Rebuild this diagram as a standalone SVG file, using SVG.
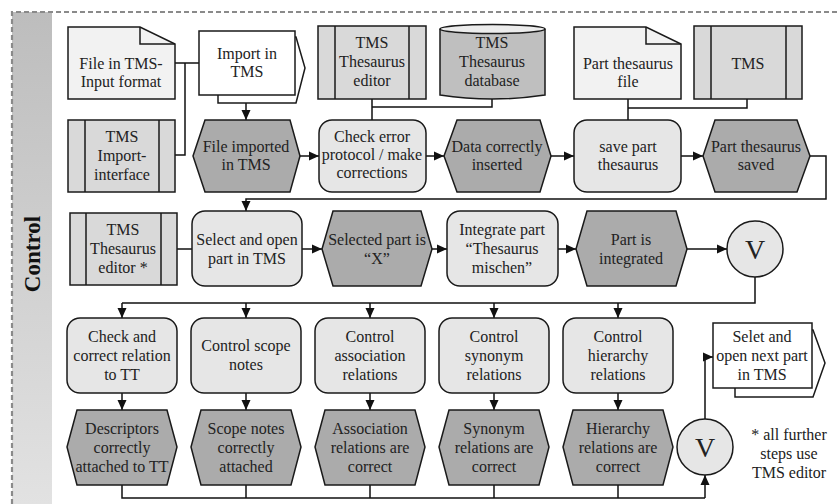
<svg xmlns="http://www.w3.org/2000/svg" width="838" height="504" viewBox="0 0 838 504">
<style>
.frame{fill:none;stroke:#8a8a8a;stroke-width:2.2;stroke-dasharray:5 3}
.node{stroke:#1a1a1a;stroke-width:1.5}
.proc{fill:#e6e6e6}
.hex{fill:#ababab}
.app{fill:#d9d9d9}
.doc{fill:#f2f2f2}
.cyl{fill:#bfbfbf}
.cyltop{fill:#ececec}
.circ{fill:#e6e6e6}
.pif{fill:#ffffff}
.conn{fill:none;stroke:#111;stroke-width:1.5}
text, tspan{font-family:'Liberation Serif', 'Times New Roman', serif}
text{font-size:16px;fill:#222;text-anchor:middle}
.v{font-size:28px}
.lane{font-size:23px;font-weight:bold;fill:#111}
</style>
<defs>
<linearGradient id="band" x1="0" y1="0" x2="0" y2="1">
<stop offset="0" stop-color="#bdbdbd"/>
<stop offset="1" stop-color="#e2e2e2"/>
</linearGradient>
<marker id="arr" markerUnits="userSpaceOnUse" markerWidth="10" markerHeight="10" viewBox="0 0 10 10" refX="10" refY="5" orient="auto">
<path d="M0,0.5 L10,5 L0,9.5 z" fill="#111"/>
</marker>
</defs>
<rect x="12" y="12" width="40" height="492" fill="url(#band)"/>
<path class="frame" d="M12,504 L12,12 L838,12"/>
<text class="lane" transform="translate(40,254) rotate(-90)">Control</text>

<g id="connectors">
<path class="conn" d="M175,63 L199,63 M185,63 L185,155 L175,155"/>
<path class="conn" d="M246,103 L246,120" marker-end="url(#arr)"/>
<path class="conn" d="M372,99 L372,120 M372,107 L492,107 L492,99"/>
<path class="conn" d="M628,99 L628,120 M628,108 L747,108 L747,99"/>
<path class="conn" d="M300,156 L319,156" marker-end="url(#arr)"/>
<path class="conn" d="M426,156 L444,156" marker-end="url(#arr)"/>
<path class="conn" d="M551,156 L574,156" marker-end="url(#arr)"/>
<path class="conn" d="M681,156 L703,156" marker-end="url(#arr)"/>
<path class="conn" d="M810,156 L826,156 L826,199 L246,199 L246,211" marker-end="url(#arr)"/>
<path class="conn" d="M177,249 L192,249"/>
<path class="conn" d="M302,249 L322,249" marker-end="url(#arr)"/>
<path class="conn" d="M432,249 L447,249" marker-end="url(#arr)"/>
<path class="conn" d="M558,249 L576,249" marker-end="url(#arr)"/>
<path class="conn" d="M687,249 L727,249" marker-end="url(#arr)"/>
<path class="conn" d="M755,277 L755,303 L122,303"/>
<path class="conn" d="M122,303 L122,318" marker-end="url(#arr)"/>
<path class="conn" d="M246,303 L246,318" marker-end="url(#arr)"/>
<path class="conn" d="M370,303 L370,318" marker-end="url(#arr)"/>
<path class="conn" d="M494,303 L494,318" marker-end="url(#arr)"/>
<path class="conn" d="M618,303 L618,318" marker-end="url(#arr)"/>
<path class="conn" d="M122,393 L122,410" marker-end="url(#arr)"/>
<path class="conn" d="M246,393 L246,410" marker-end="url(#arr)"/>
<path class="conn" d="M370,393 L370,410" marker-end="url(#arr)"/>
<path class="conn" d="M494,393 L494,410" marker-end="url(#arr)"/>
<path class="conn" d="M618,393 L618,410" marker-end="url(#arr)"/>
<path class="conn" d="M122,485 L122,498 L705,498 M246,485 L246,498 M370,485 L370,498 M494,485 L494,498 M618,485 L618,498"/>
<path class="conn" d="M705,498 L705,475" marker-end="url(#arr)"/>
<path class="conn" d="M705,419 L705,357 L713,357" marker-end="url(#arr)"/>
</g>

<g id="doc-file-input">
<path class="node doc" d="M68,27 L140,27 L175,44 L175,99 L68,99 Z"/>
<path class="node" fill="none" d="M140,27 L140,44 L175,44"/>
<text><tspan x="121" y="69">File in TMS-</tspan><tspan x="121" y="87">Input format</tspan></text>
</g>
<g id="pif-import">
<path class="node pif" d="M218,37 L296,37 L305,68 L296,103 L218,103 Z"/>
<rect class="node pif" x="199" y="31" width="96" height="64"/>
<text><tspan x="247" y="59">Import in</tspan><tspan x="247" y="77">TMS</tspan></text>
</g>
<g id="app-thesaurus-editor">
<rect class="node app" x="318" y="26" width="108" height="73"/>
<path class="node" d="M335,26 L335,99 M409,26 L409,99"/>
<text><tspan x="372" y="48">TMS</tspan><tspan x="372" y="67">Thesaurus</tspan><tspan x="372" y="86">editor</tspan></text>
</g>
<g id="cyl-database">
<path class="node cyl" d="M440,29 L440,95 Q492,103 545,95 L545,29"/>
<ellipse class="node cyltop" cx="492.5" cy="29" rx="52.5" ry="4.5"/>
<text><tspan x="492" y="48">TMS</tspan><tspan x="492" y="67">Thesaurus</tspan><tspan x="492" y="86">database</tspan></text>
</g>
<g id="doc-part-file">
<path class="node doc" d="M574,27 L646,27 L681,44 L681,99 L574,99 Z"/>
<path class="node" fill="none" d="M646,27 L646,44 L681,44"/>
<text><tspan x="628" y="69">Part thesaurus</tspan><tspan x="628" y="87">file</tspan></text>
</g>
<g id="app-tms">
<rect class="node app" x="694" y="26" width="108" height="73"/>
<path class="node" d="M711,26 L711,99 M786,26 L786,99"/>
<text><tspan x="748" y="69">TMS</tspan></text>
</g>

<g id="app-import-interface">
<rect class="node app" x="68" y="120" width="107" height="72"/>
<path class="node" d="M85,120 L85,192 M159,120 L159,192"/>
<text><tspan x="122" y="142">TMS</tspan><tspan x="122" y="161">Import-</tspan><tspan x="122" y="180">interface</tspan></text>
</g>
<g id="hex-file-imported">
<path class="node hex" d="M193,156 L205,120 L290,120 L300,156 L290,192 L205,192 Z"/>
<text><tspan x="246" y="152">File imported</tspan><tspan x="246" y="170">in TMS</tspan></text>
</g>
<g id="proc-check-error">
<rect class="node proc" x="319" y="120" width="107" height="72" rx="13"/>
<text><tspan x="372" y="142">Check error</tspan><tspan x="372" y="160">protocol / make</tspan><tspan x="372" y="178">corrections</tspan></text>
</g>
<g id="hex-data-inserted">
<path class="node hex" d="M444,156 L457,120 L540,120 L551,156 L540,192 L457,192 Z"/>
<text><tspan x="497" y="152">Data correctly</tspan><tspan x="497" y="170">inserted</tspan></text>
</g>
<g id="proc-save-part">
<rect class="node proc" x="574" y="120" width="107" height="72" rx="13"/>
<text><tspan x="628" y="152">save part</tspan><tspan x="628" y="170">thesaurus</tspan></text>
</g>
<g id="hex-part-saved">
<path class="node hex" d="M703,156 L715,120 L797,120 L810,156 L797,192 L715,192 Z"/>
<text><tspan x="756" y="152">Part thesaurus</tspan><tspan x="756" y="170">saved</tspan></text>
</g>

<g id="app-editor-star">
<rect class="node app" x="70" y="213" width="107" height="72"/>
<path class="node" d="M86,213 L86,285 M161,213 L161,285"/>
<text><tspan x="123" y="235">TMS</tspan><tspan x="123" y="254">Thesaurus</tspan><tspan x="123" y="273">editor *</tspan></text>
</g>
<g id="proc-select-open">
<rect class="node proc" x="192" y="211" width="110" height="75" rx="13"/>
<text><tspan x="247" y="245">Select and open</tspan><tspan x="247" y="264">part in TMS</tspan></text>
</g>
<g id="hex-selected-part">
<path class="node hex" d="M322,249 L333,211 L421,211 L432,249 L421,286 L333,286 Z"/>
<text><tspan x="377" y="245">Selected part is</tspan><tspan x="377" y="264">“X”</tspan></text>
</g>
<g id="proc-integrate">
<rect class="node proc" x="447" y="211" width="111" height="75" rx="13"/>
<text><tspan x="502" y="235">Integrate part</tspan><tspan x="502" y="254">“Thesaurus</tspan><tspan x="502" y="273">mischen”</tspan></text>
</g>
<g id="hex-integrated">
<path class="node hex" d="M576,249 L587,211 L676,211 L687,249 L676,286 L587,286 Z"/>
<text><tspan x="631" y="245">Part is</tspan><tspan x="631" y="264">integrated</tspan></text>
</g>
<g id="xor-1">
<circle class="node circ" cx="755" cy="249" r="28"/>
<text class="v" x="755" y="259">V</text>
</g>

<g id="proc-check-tt">
<rect class="node proc" x="67" y="318" width="110" height="75" rx="13"/>
<text><tspan x="122" y="342">Check and</tspan><tspan x="122" y="361">correct relation</tspan><tspan x="122" y="380">to TT</tspan></text>
</g>
<g id="proc-scope">
<rect class="node proc" x="191" y="318" width="110" height="75" rx="13"/>
<text><tspan x="246" y="351">Control scope</tspan><tspan x="246" y="370">notes</tspan></text>
</g>
<g id="proc-association">
<rect class="node proc" x="315" y="318" width="110" height="75" rx="13"/>
<text><tspan x="370" y="342">Control</tspan><tspan x="370" y="361">association</tspan><tspan x="370" y="380">relations</tspan></text>
</g>
<g id="proc-synonym">
<rect class="node proc" x="439" y="318" width="110" height="75" rx="13"/>
<text><tspan x="494" y="342">Control</tspan><tspan x="494" y="361">synonym</tspan><tspan x="494" y="380">relations</tspan></text>
</g>
<g id="proc-hierarchy">
<rect class="node proc" x="563" y="318" width="110" height="75" rx="13"/>
<text><tspan x="618" y="342">Control</tspan><tspan x="618" y="361">hierarchy</tspan><tspan x="618" y="380">relations</tspan></text>
</g>

<g id="hex-descriptors">
<path class="node hex" d="M67,447 L77,410 L167,410 L177,447 L167,485 L77,485 Z"/>
<text><tspan x="122" y="434">Descriptors</tspan><tspan x="122" y="453">correctly</tspan><tspan x="122" y="472">attached to TT</tspan></text>
</g>
<g id="hex-scope">
<path class="node hex" d="M191,447 L201,410 L291,410 L301,447 L291,485 L201,485 Z"/>
<text><tspan x="246" y="434">Scope notes</tspan><tspan x="246" y="453">correctly</tspan><tspan x="246" y="472">attached</tspan></text>
</g>
<g id="hex-association">
<path class="node hex" d="M315,447 L325,410 L415,410 L425,447 L415,485 L325,485 Z"/>
<text><tspan x="370" y="434">Association</tspan><tspan x="370" y="453">relations are</tspan><tspan x="370" y="472">correct</tspan></text>
</g>
<g id="hex-synonym">
<path class="node hex" d="M439,447 L449,410 L539,410 L549,447 L539,485 L449,485 Z"/>
<text><tspan x="494" y="434">Synonym</tspan><tspan x="494" y="453">relations are</tspan><tspan x="494" y="472">correct</tspan></text>
</g>
<g id="hex-hierarchy">
<path class="node hex" d="M563,447 L573,410 L663,410 L673,447 L663,485 L573,485 Z"/>
<text><tspan x="618" y="434">Hierarchy</tspan><tspan x="618" y="453">relations are</tspan><tspan x="618" y="472">correct</tspan></text>
</g>
<g id="xor-2">
<circle class="node circ" cx="705" cy="447" r="28"/>
<text class="v" x="705" y="457">V</text>
</g>
<g id="pif-next-part">
<path class="node pif" d="M735,330 L813,330 L825,363 L813,397 L735,397 Z"/>
<rect class="node pif" x="713" y="323" width="99" height="65"/>
<text><tspan x="762" y="342">Selet and</tspan><tspan x="762" y="361">open next part</tspan><tspan x="762" y="380">in TMS</tspan></text>
</g>
<g id="note">
<text><tspan x="789" y="440">* all further</tspan><tspan x="789" y="459">steps use</tspan><tspan x="789" y="478">TMS editor</tspan></text>
</g>
</svg>
